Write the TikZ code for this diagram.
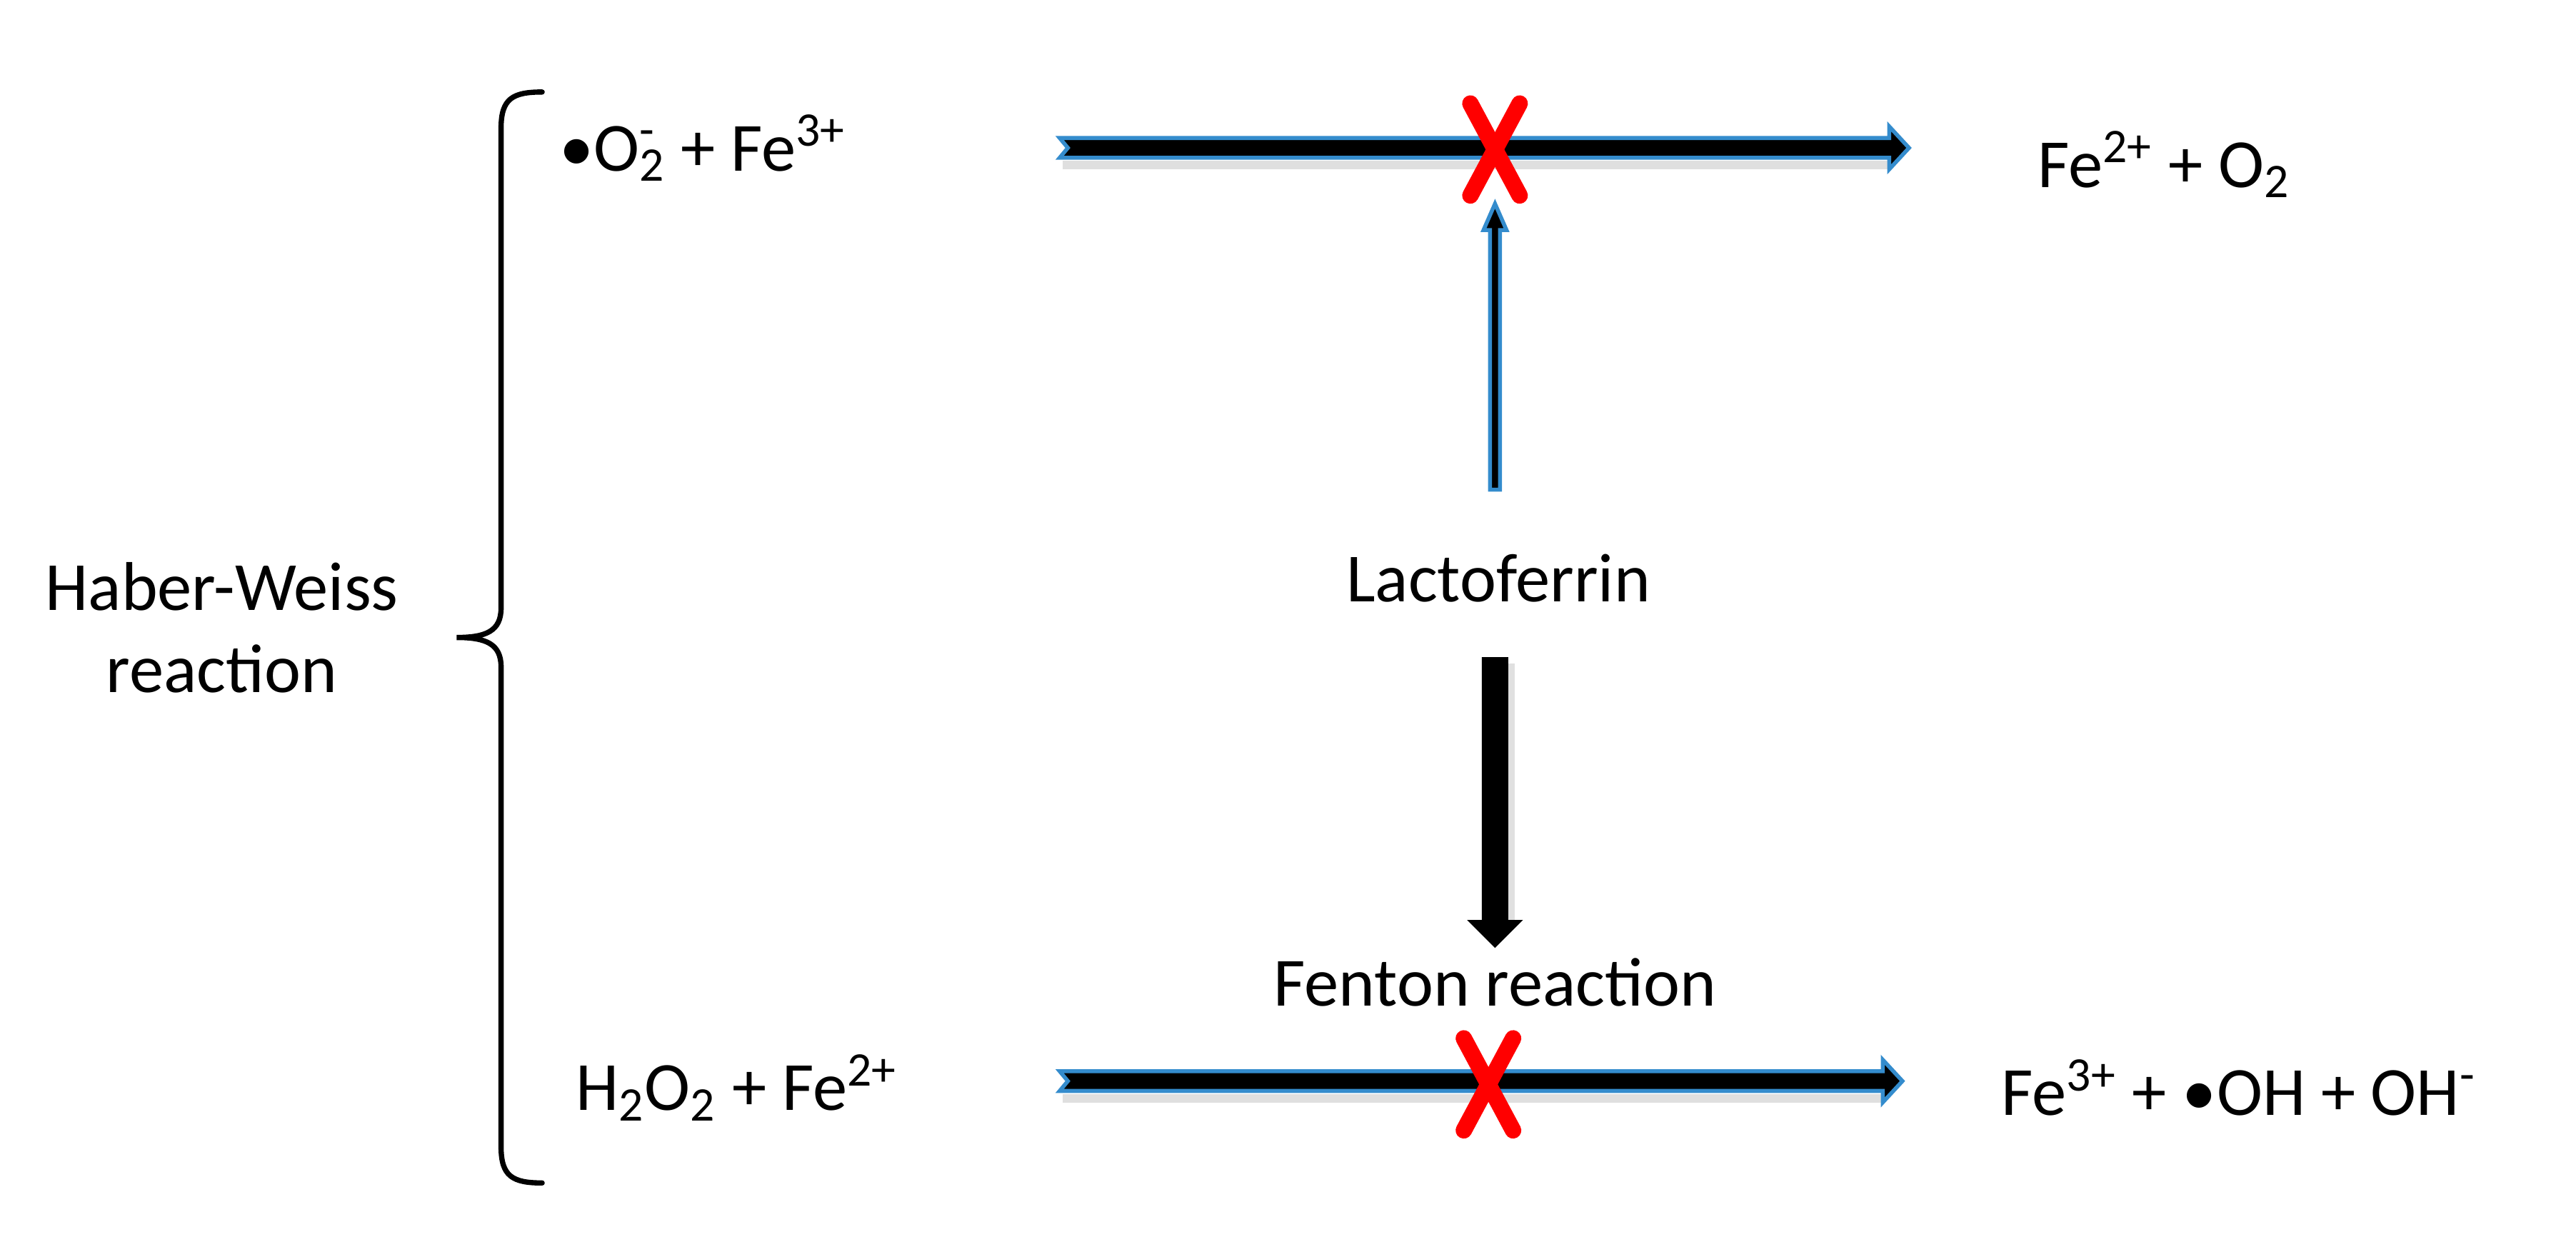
\documentclass[tikz,border=0pt]{standalone}
\usepackage{fontspec}
\setmainfont{Carlito}
\definecolor{edgeblue}{RGB}{52,140,205}
\definecolor{xred}{RGB}{255,0,0}
\tikzset{
  lbl/.style={inner sep=0pt,font=\fontsize{21}{25}\selectfont},
  arrowbody/.style={fill=black,draw=edgeblue,line width=1.2pt,line join=miter},
  xstroke/.style={draw=xred,line width=5pt,line cap=round},
}
\newcommand{\sbsp}[2]{\rlap{\textsuperscript{#2}}\textsubscript{#1}}
\begin{document}
\begin{tikzpicture}[x=0.5pt,y=-0.5pt]
\useasboundingbox (0,0) rectangle (1568,762);
% texts
\node[lbl,anchor=west] (r1) at (340,90) {•O\sbsp{2}{-} + Fe\textsuperscript{3+}};
\node[lbl,anchor=west] (p1) at (1240,100) {Fe\textsuperscript{2+} + O\textsubscript{2}};
\node[lbl,anchor=west] (r2) at (350,662) {H\textsubscript{2}O\textsubscript{2} + Fe\textsuperscript{2+}};
\node[lbl,anchor=west] (p2) at (1218,662) {Fe\textsuperscript{3+} + •OH + OH\textsuperscript{-}};
\node[lbl] (lf) at (912,352) {Lactoferrin};
\node[lbl] (fr) at (910,598) {Fenton reaction};
\node[lbl,align=center] (hw) at (135,382) {Haber-Weiss\\reaction};
% anchors for arrows
\coordinate (a1s) at (645,90);
\coordinate (a1e) at (1162,90);
\coordinate (a2s) at (645,658);
\coordinate (a2e) at (1158,658);
\coordinate (ups) at (910,298);
\coordinate (upe) at (910,124);
\coordinate (dns) at (910,400);
\coordinate (dne) at (910,577);
% horizontal arrows
\foreach \s/\e in {a1s/a1e,a2s/a2e}{
  \fill[black!25,opacity=0.5] ([shift={(2,8)}]\s) -- ([shift={(-12,8)}]\e) -- ([shift={(-12,13)}]\e) -- ([shift={(2,13)}]\s) -- cycle;
  \draw[arrowbody] ([shift={(0,-6)}]\s) -- ([shift={(-12,-6)}]\e) -- ([shift={(-12,-13)}]\e) -- (\e)
     -- ([shift={(-12,13)}]\e) -- ([shift={(-12,6)}]\e) -- ([shift={(0,6)}]\s) -- ([shift={(5,0)}]\s) -- cycle;
}
% up arrow (thin, blue edge)
\draw[arrowbody] ([shift={(-3,0)}]ups) -- ([shift={(-3,16)}]upe) -- ([shift={(-7,16)}]upe) -- (upe)
   -- ([shift={(7,16)}]upe) -- ([shift={(3,16)}]upe) -- ([shift={(3,0)}]ups) -- cycle;
% down arrow (thick, black)
\fill[black!20,opacity=0.6] ([shift={(-6,4)}]dns) -- ([shift={(12,4)}]dns) -- ([shift={(12,-12)}]dne) -- ([shift={(-6,-12)}]dne) -- cycle;
\fill[black] ([shift={(-8,0)}]dns) -- ([shift={(-8,-17)}]dne) -- ([shift={(-17,-17)}]dne) -- (dne)
   -- ([shift={(17,-17)}]dne) -- ([shift={(8,-17)}]dne) -- ([shift={(8,0)}]dns) -- cycle;
% red crosses
\coordinate (x1) at (910,91);
\coordinate (x2) at (906,660);
\foreach \c in {x1,x2}{
  \draw[xstroke] ([shift={(-15,-28)}]\c) -- ([shift={(15,28)}]\c);
  \draw[xstroke] ([shift={(15,-28)}]\c) -- ([shift={(-15,28)}]\c);
}
% brace
\draw[line width=1.6pt,line cap=round] (330,56) .. controls (312,56) and (305,60) .. (305,78)
  -- (305,370) .. controls (305,384) and (296,388) .. (278,388)
  .. controls (296,388) and (305,392) .. (305,406)
  -- (305,698) .. controls (305,716) and (312,720) .. (330,720);
\end{tikzpicture}
\end{document}
